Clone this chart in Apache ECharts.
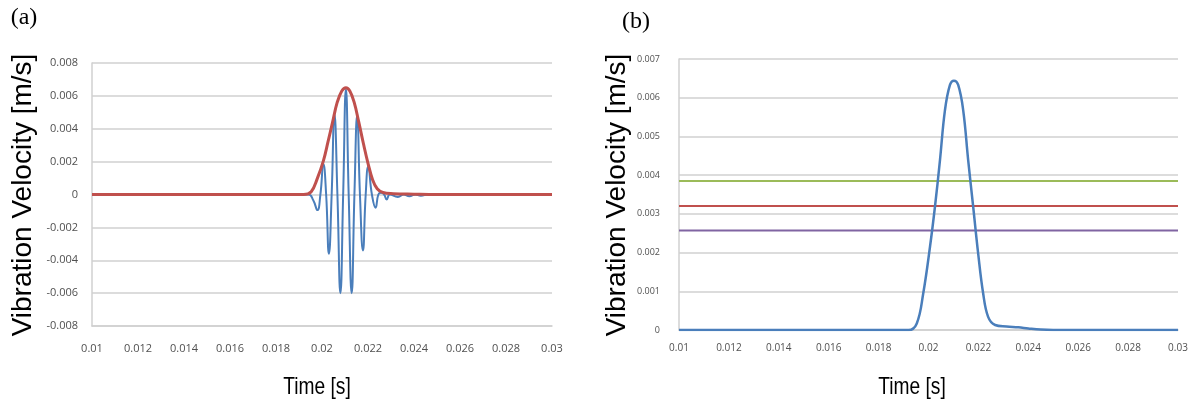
<!DOCTYPE html>
<html><head><meta charset="utf-8">
<script src="https://cdn.jsdelivr.net/npm/echarts@6/dist/echarts.min.js"></script>
<style>html,body{margin:0;padding:0;background:#fff}#c{width:1193px;height:405px}</style>
</head><body><div id="c"></div>
<script>
// ---- data ----
const xTicks = [0.01, 0.012, 0.014, 0.016, 0.018, 0.02, 0.022, 0.024, 0.026, 0.028, 0.03];
const yTicksA = [-0.008, -0.006, -0.004, -0.002, 0, 0.002, 0.004, 0.006, 0.008];
const yTicksB = [0, 0.001, 0.002, 0.003, 0.004, 0.005, 0.006, 0.007];

// panel (a): oscillating vibration signal [time, velocity]
const signalA = [
  [0.0100, 0], [0.0194, 0], [0.01962, -0.00035], [0.01980, -0.00095], [0.01993, 0],
  [0.02006, 0.00186], [0.02018, 0], [0.02030, -0.0036], [0.02042, 0],
  [0.02054, 0.0049], [0.02067, 0], [0.02080, -0.0060], [0.02092, 0],
  [0.02104, 0.0064], [0.02116, 0], [0.02129, -0.0060], [0.02141, 0],
  [0.02153, 0.0048], [0.02165, 0], [0.02178, -0.0034], [0.02190, 0],
  [0.02201, 0.0017], [0.02217, 0], [0.02233, -0.0008], [0.02245, 0],
  [0.02257, 0.0001], [0.02270, 0], [0.02281, -0.0003], [0.02295, 0],
  [0.02330, -0.00015], [0.02355, 0], [0.02380, -0.0001], [0.02405, 0],
  [0.02430, -0.00008], [0.02460, 0], [0.0300, 0]
];
// panel (a): envelope
const envelopeA = [
  [0.0100, 0], [0.0192, 0], [0.01953, 0.00017], [0.01979, 0.00095], [0.02006, 0.00205],
  [0.02026, 0.0032], [0.02046, 0.0044], [0.02066, 0.0056], [0.02086, 0.0063],
  [0.02104, 0.0065], [0.02121, 0.0063], [0.02140, 0.0056], [0.02160, 0.0044],
  [0.02180, 0.0031], [0.02200, 0.0019], [0.02220, 0.0009], [0.02240, 0.00035],
  [0.02265, 0.00012], [0.02310, 0.00005], [0.02400, 0.00002], [0.0250, 0], [0.0300, 0]
];
// panel (b): envelope curve
const envelopeB = [
  [0.0100, 0], [0.0192, 0], [0.01953, 0.00017], [0.01979, 0.00095], [0.02006, 0.00215],
  [0.02026, 0.00319], [0.02046, 0.00439], [0.02066, 0.00568], [0.02086, 0.00633],
  [0.02102, 0.00644], [0.02119, 0.00633], [0.02139, 0.00568], [0.02159, 0.00439],
  [0.02179, 0.00319], [0.02199, 0.00198], [0.02219, 0.00095], [0.02239, 0.00034],
  [0.02267, 0.00013], [0.02313, 0.00009], [0.0236, 0.00007], [0.0240, 0.00004],
  [0.0245, 0.00001], [0.0250, 0], [0.0300, 0]
];
// panel (b): threshold levels
const levelGreen = 0.00385;
const levelRed = 0.0032;
const levelPurple = 0.00257;

// ---- chart ----
const fmt = v => String(Number(v.toFixed(4)));
const gridCol = '#d0d0d0';
const lbl = size => ({color: '#505050', fontSize: size, fontFamily: 'Open Sans'});
function xAxis(gi, margin, size) {
  return {
    type: 'value', gridIndex: gi, min: xTicks[0], max: xTicks[xTicks.length - 1],
    interval: xTicks[1] - xTicks[0],
    axisLine: {show: true, onZero: false, lineStyle: {color: gridCol, width: 1.5}},
    axisTick: {show: false}, splitLine: {show: false},
    axisLabel: Object.assign({formatter: fmt, margin: margin}, lbl(size))
  };
}
function yAxis(gi, ticks, margin, size) {
  return {
    type: 'value', gridIndex: gi, min: ticks[0], max: ticks[ticks.length - 1],
    interval: Number((ticks[1] - ticks[0]).toFixed(4)),
    axisLine: {show: true, lineStyle: {color: gridCol, width: 1.5}},
    axisTick: {show: false},
    splitLine: {show: true, lineStyle: {color: gridCol, width: 1.5}},
    axisLabel: Object.assign({formatter: fmt, margin: margin}, lbl(size))
  };
}
function hline(level, color) {
  return {type: 'line', xAxisIndex: 1, yAxisIndex: 1, symbol: 'none',
    data: [[xTicks[0], level], [xTicks[xTicks.length - 1], level]],
    lineStyle: {color: color, width: 2}};
}
const chart = echarts.init(document.getElementById('c'), null, {renderer: 'canvas'});
const titleFont = {fontFamily: 'Liberation Sans', fill: '#000'};
chart.setOption({
  animation: false,
  grid: [
    {left: 92, top: 63, width: 460, height: 263},
    {left: 679, top: 59, width: 499, height: 271}
  ],
  xAxis: [xAxis(0, 17, 11), xAxis(1, 13, 10)],
  yAxis: [yAxis(0, yTicksA, 14, 11), yAxis(1, yTicksB, 19, 9)],
  series: [
    {type: 'line', xAxisIndex: 0, yAxisIndex: 0, symbol: 'none', smooth: 0.5,
     data: signalA, lineStyle: {color: '#4a7ebb', width: 2}},
    {type: 'line', xAxisIndex: 0, yAxisIndex: 0, symbol: 'none', smooth: 0.4,
     data: envelopeA, lineStyle: {color: '#c0504d', width: 3}},
    hline(levelGreen, '#9bbb59'),
    hline(levelRed, '#c0504d'),
    hline(levelPurple, '#8064a2'),
    {type: 'line', xAxisIndex: 1, yAxisIndex: 1, symbol: 'none', smooth: 0.4,
     data: envelopeB, lineStyle: {color: '#4a7ebb', width: 2.5}}
  ],
  graphic: [
    {type: 'text', x: 24, y: 18, style: Object.assign({}, titleFont, {text: '(a)', fontFamily: 'Liberation Serif', fontSize: 24, textAlign: 'center', textVerticalAlign: 'middle'})},
    {type: 'text', x: 636, y: 22, style: Object.assign({}, titleFont, {text: '(b)', fontFamily: 'Liberation Serif', fontSize: 24, textAlign: 'center', textVerticalAlign: 'middle'})},
    {type: 'text', x: 23, y: 195, rotation: Math.PI / 2, style: Object.assign({}, titleFont, {text: 'Vibration Velocity [m/s]', fontSize: 28, textAlign: 'center', textVerticalAlign: 'middle'})},
    {type: 'text', x: 617, y: 195, rotation: Math.PI / 2, style: Object.assign({}, titleFont, {text: 'Vibration Velocity [m/s]', fontSize: 28, textAlign: 'center', textVerticalAlign: 'middle'})},
    {type: 'text', x: 317, y: 387, scaleX: 0.8, style: Object.assign({}, titleFont, {text: 'Time [s]', fontSize: 24, textAlign: 'center', textVerticalAlign: 'middle'})},
    {type: 'text', x: 912, y: 387, scaleX: 0.8, style: Object.assign({}, titleFont, {text: 'Time [s]', fontSize: 24, textAlign: 'center', textVerticalAlign: 'middle'})}
  ]
});
</script></body></html>
